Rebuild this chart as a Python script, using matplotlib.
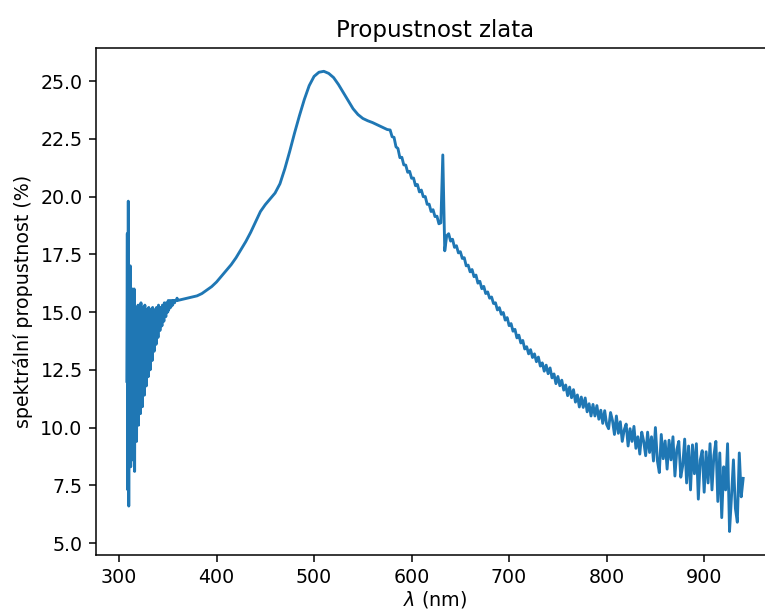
import numpy as np
import matplotlib
matplotlib.use("Agg")
import matplotlib.pyplot as plt

# wavelength grids (nm)
wl_uv = np.linspace(308, 360, 105)
wl_vis = np.linspace(365, 575, 43)
wl_red = np.linspace(578, 940, 182)

# transmission (%)
t_uv = [12.0, 18.4, 7.3, 19.8, 6.6, 16.2, 9.5, 17.0, 8.3, 15.8,
        10.5, 16.0, 8.6, 15.3, 9.2, 16.0, 8.1, 14.6, 10.0, 15.2,
        9.4, 14.8, 10.4, 15.3, 10.1, 14.9, 11.0, 15.1, 10.6, 15.4,
        11.3, 14.8, 10.9, 15.2, 11.6, 15.0, 11.4, 15.3, 12.0, 14.9,
        11.8, 15.1, 12.4, 15.0, 12.2, 15.2, 12.8, 14.9, 12.5, 15.1,
        13.1, 15.0, 12.9, 15.2, 13.4, 14.9, 13.3, 15.1, 13.8, 15.0,
        13.6, 15.2, 14.1, 15.0, 13.9, 15.3, 14.3, 15.1, 14.2, 15.2,
        14.5, 15.0, 14.4, 15.3, 14.7, 15.1, 14.6, 15.4, 14.9, 15.2,
        14.8, 15.4, 15.0, 15.3, 15.0, 15.5, 15.1, 15.4, 15.2, 15.5,
        15.2, 15.4, 15.3, 15.5, 15.3, 15.5, 15.4, 15.5, 15.4, 15.5,
        15.5, 15.5, 15.5, 15.6, 15.5]

t_vis = [15.55, 15.6, 15.65, 15.7, 15.8, 15.95, 16.1, 16.3, 16.55, 16.8,
         17.05, 17.35, 17.7, 18.05, 18.45, 18.9, 19.35, 19.65, 19.9, 20.15,
         20.55, 21.2, 21.95, 22.75, 23.5, 24.2, 24.8, 25.2, 25.38, 25.42,
         25.33, 25.15, 24.85, 24.5, 24.15, 23.8, 23.55, 23.38, 23.28, 23.2,
         23.1, 23.0, 22.9]

t_red = [22.88, 22.59, 22.56, 22.15, 22.08, 21.68, 21.7, 21.37, 21.36, 21.05,
         21.09, 20.79, 20.8, 20.47, 20.52, 20.2, 20.28, 19.99, 20.0, 19.66,
         19.67, 19.35, 19.43, 19.13, 19.15, 18.82, 18.86, 21.8, 17.65,
         18.3, 18.39, 18.07, 18.15, 17.8, 17.87, 17.56, 17.61, 17.32, 17.35,
         17.0, 17.03, 16.74, 16.84, 16.53, 16.6, 16.25, 16.33, 16.01, 16.11,
         15.8, 15.87, 15.6, 15.65, 15.37, 15.4, 15.09, 15.19, 14.9, 14.98,
         14.65, 14.76, 14.41, 14.5, 14.17, 14.25, 13.88, 14.0, 13.66, 13.77,
         13.4, 13.5, 13.19,
         13.37, 13.03, 13.19, 12.85, 13.05, 12.66, 12.8, 12.44, 12.7, 12.33,
         12.58, 12.15, 12.32, 11.9, 12.21, 11.81, 12.05, 11.62, 11.84, 11.38,
         11.75, 11.29, 11.64, 11.1, 11.41, 10.89, 11.32, 10.87, 11.28, 10.68,
         11.03, 10.5, 11.0, 10.5, 10.95, 10.36, 10.75, 10.18, 10.73, 10.13,
         9.95, 10.65, 10.3, 9.7, 10.5, 9.75, 10.25, 9.4, 9.9, 10.15,
         9.2, 9.95, 9.4, 10.05, 9.1, 9.6, 8.85, 9.8, 9.4, 8.78,
         9.8, 8.92, 9.6, 8.55, 10.0, 8.57, 8.05, 9.7, 8.65, 9.42,
         8.2, 9.45, 8.6, 9.6, 7.9, 9.05, 9.4, 7.85, 8.35, 9.5,
         7.6, 9.2, 7.3, 9.25, 8.0, 9.3, 6.9, 8.6, 9.0, 7.2,
         8.95, 7.6, 9.3, 7.3, 8.8, 9.4, 6.8, 8.9, 6.1, 8.3,
         7.3, 9.3, 5.5, 7.0, 8.6, 6.5, 5.9, 8.9, 7.0, 7.8]

wl = np.concatenate([wl_uv, wl_vis, wl_red])
t = np.concatenate([t_uv, t_vis, t_red])

dpi = 137
fig = plt.figure(figsize=(765 / dpi, 612 / dpi), dpi=dpi)
# axes placed like the cropped original (right spine falls outside)
ax = fig.add_axes([96 / 765, 57.5 / 612, 678 / 765, 506.2 / 612])

ax.plot(wl, t)
ax.set_title('Propustnost zlata')
ax.set_xlabel(r'$\lambda$ (nm)', labelpad=1)
ax.set_ylabel('spektrální propustnost (%)')

fig.savefig('out.png', dpi=dpi)
